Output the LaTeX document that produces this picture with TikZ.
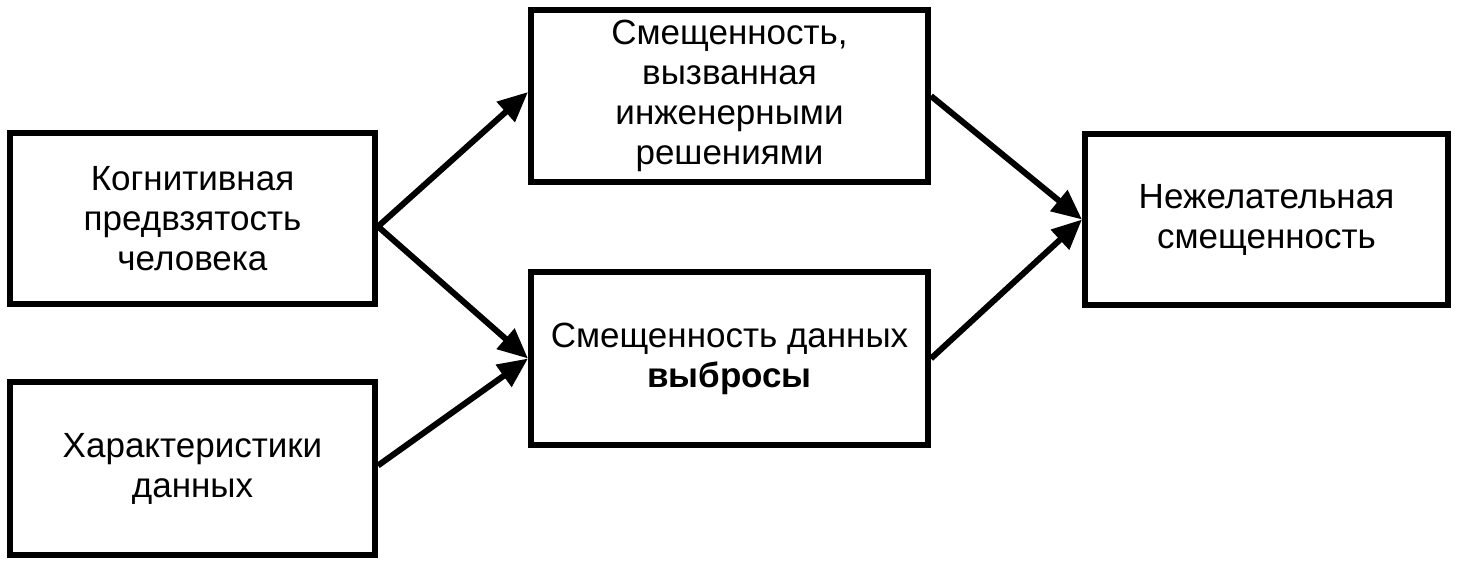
\documentclass[tikz,border=0pt]{standalone}
\usepackage{fontspec}
\setmainfont{Liberation Sans}
\usetikzlibrary{arrows.meta}
\begin{document}
\begin{tikzpicture}[x=1pt,y=-1pt,
  box/.style={draw=black,line width=6pt,rectangle,align=center,inner sep=0pt,
    font=\fontsize{35}{40}\selectfont},
  conn/.style={line width=6pt,-{Triangle[length=30pt,width=26pt]}}]
\useasboundingbox (0,0) rectangle (1460,565);
\fill[white] (0,0) rectangle (1460,565);
\node[box,minimum width=365pt,minimum height=171pt] (a) at (192.5,218.5)
  {Когнитивная\\предвзятость\\человека};
\node[box,minimum width=365pt,minimum height=173pt] (b) at (192.5,468.5)
  {Характеристики\\данных};
\node[box,minimum width=397pt,minimum height=172pt] (c) at (729.5,96)
  {Смещенность,\\вызванная\\инженерными\\решениями};
\node[box,minimum width=397pt,minimum height=173pt] (d) at (729.5,358.5)
  {Смещенность данных\\\textbf{выбросы}};
\node[box,minimum width=363pt,minimum height=171pt] (e) at (1266.5,219.5)
  {Нежелательная\\смещенность};
\draw[conn] ([yshift=-8pt]a.east) -- ([yshift=4pt]c.west);
\draw[conn] ([yshift=-8pt]a.east) -- (d.west);
\draw[conn] ([yshift=3pt]b.east) -- (d.west);
\draw[conn] (c.east) -- (e.west);
\draw[conn] (d.east) -- (e.west);
\end{tikzpicture}
\end{document}
